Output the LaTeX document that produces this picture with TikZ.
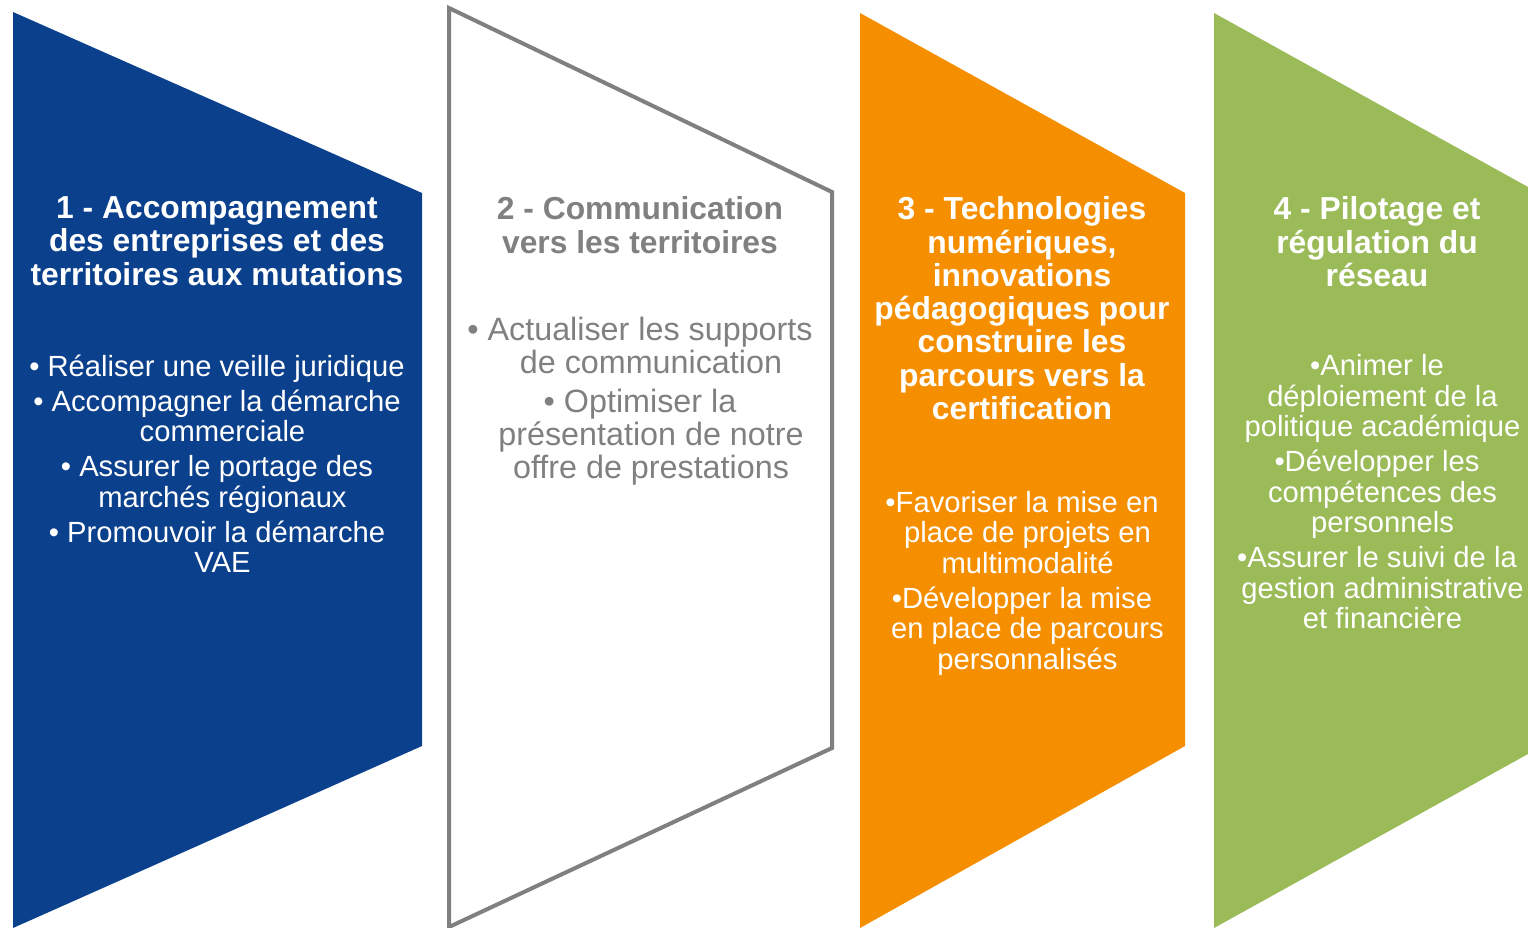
\documentclass[tikz,border=0pt]{standalone}
\usepackage{fontspec}
\setmainfont{Liberation Sans}
\definecolor{darkblue}{RGB}{11, 64, 140}
\definecolor{midgray}{RGB}{128, 128, 128}
\definecolor{brightorange}{RGB}{246, 143, 0}
\definecolor{leafgreen}{RGB}{155, 187, 89}
\tikzstyle{paneltitle}=[anchor=north,align=center,inner sep=0pt,font=\fontsize{31.8}{33.3}\selectfont\bfseries]
\tikzstyle{panelbody}=[anchor=north,align=center,inner sep=0pt,font=\fontsize{29.2}{30.5}\selectfont]
\tikzstyle{panelbodybig}=[anchor=north,align=center,inner sep=0pt,font=\fontsize{32.3}{33}\selectfont]
\newcommand{\contline}{\hspace*{11pt}}

\begin{document}
\begin{tikzpicture}[x=1pt,y=-1pt]
\useasboundingbox (0,0) rectangle (1528,928);

% the four panels
\fill[darkblue] (13,12) -- (422,193) -- (422,746) -- (13,928) -- cycle;
\draw[midgray,line width=4pt] (449,8) -- (832,192) -- (832,748) -- (449,927) -- cycle;
\fill[brightorange] (860,13) -- (1185,193) -- (1185,746) -- (860,928) -- cycle;
\fill[leafgreen] (1214,13) -- (1528,187) -- (1528,754) -- (1214,928) -- cycle;

% titles
\node[paneltitle,white] (T1) at (217,196.5) {1 - Accompagnement\\des entreprises et des\\territoires aux mutations};
\node[paneltitle,midgray] (T2) at (640,196.5) {2 - Communication\\vers les territoires};
\node[paneltitle,white] (T3) at (1022,196.5) {3 - Technologies\\numériques,\\innovations\\pédagogiques pour\\construire les\\parcours vers la\\certification};
\node[paneltitle,white] (T4) at (1377,196.5) {4 - Pilotage et\\régulation du\\réseau};

% bullet lists
\node[panelbody,white] (B1) at (217,354.5) {\textbullet\ Réaliser une veille juridique\\[4.5pt]
\textbullet\ Accompagner la démarche\\\contline commerciale\\[4.5pt]
\textbullet\ Assurer le portage des\\\contline marchés régionaux\\[4.5pt]
\textbullet\ Promouvoir la démarche\\\contline VAE};
\node[panelbodybig,midgray] (B2) at (640,317) {\textbullet\ Actualiser les supports\\\contline\contline de communication\\[6pt]
\textbullet\ Optimiser la\\\contline\contline présentation de notre\\\contline\contline offre de prestations};
\node[panelbody,white] (B3) at (1022,491) {\textbullet Favoriser la mise en\\\contline place de projets en\\\contline multimodalité\\[4.5pt]
\textbullet Développer la mise\\\contline en place de parcours\\\contline personnalisés};
\node[panelbody,white] (B4) at (1377,354.5) {\textbullet Animer le\\\contline déploiement de la\\\contline politique académique\\[4.5pt]
\textbullet Développer les\\\contline compétences des\\\contline personnels\\[4.5pt]
\textbullet Assurer le suivi de la\\\contline gestion administrative\\\contline et financière};

\end{tikzpicture}
\end{document}
